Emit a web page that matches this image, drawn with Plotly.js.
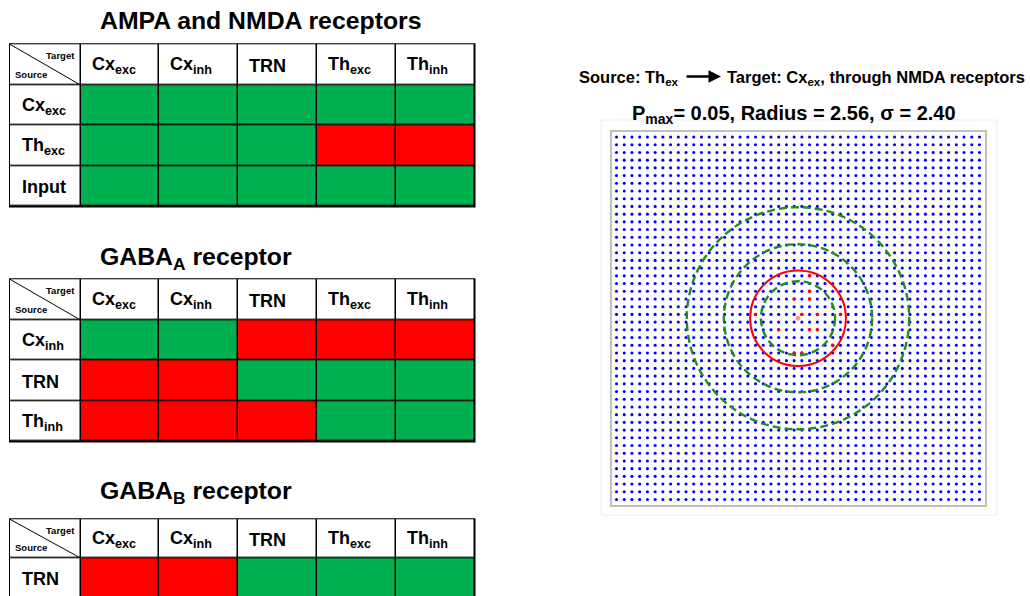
<!DOCTYPE html>
<html><head><meta charset="utf-8">
<script src="https://cdn.plot.ly/plotly-3.0.1.min.js"></script>
<style>html,body{margin:0;padding:0;background:#fff}#chart{width:1030px;height:596px}</style>
</head><body><div id="chart"></div>
<script>
// ---------------- data ----------------
const targets = ['Cx<sub>exc</sub>','Cx<sub>inh</sub>','TRN','Th<sub>exc</sub>','Th<sub>inh</sub>'];
const tableTitles = ['AMPA and NMDA receptors','GABA<sub>A</sub> receptor','GABA<sub>B</sub> receptor'];
const ampaSources = ['Cx<sub>exc</sub>','Th<sub>exc</sub>','Input'];
const ampaConn = [[1,1,1,1,1],[1,1,1,0,0],[1,1,1,1,1]];
const gabaASources = ['Cx<sub>inh</sub>','TRN','Th<sub>inh</sub>'];
const gabaAConn = [[1,1,0,0,0],[0,0,1,1,1],[0,0,0,1,1]];
const gabaBSources = ['TRN'];
const gabaBConn = [[0,0,1,1,1]];

const sourceName = 'Th<sub>ex</sub>';
const targetName = 'Cx<sub>ex</sub>';
const receptorName = 'NMDA receptors';
const pmax = 0.05, radius = 2.56, sigma = 2.40;
const gridCoords = [-23.5,-22.5,-21.5,-20.5,-19.5,-18.5,-17.5,-16.5,-15.5,-14.5,-13.5,-12.5,
  -11.5,-10.5,-9.5,-8.5,-7.5,-6.5,-5.5,-4.5,-3.5,-2.5,-1.5,-0.5,
  0.5,1.5,2.5,3.5,4.5,5.5,6.5,7.5,8.5,9.5,10.5,11.5,
  12.5,13.5,14.5,15.5,16.5,17.5,18.5,19.5,20.5,21.5,22.5,23.5];
const connX = [1.5, 1.5, -0.5, 1.5, -5.5, 0.5, 2.5, 5.5, -2.5, 1.5, 2.5, 4.5, -0.5, 0.5];
const connY = [5.5, 3.5, 2.5, 2.5, 0.5, 0.5, 0.5, 0.5, -1.5, -1.5, -1.5, -3.5, -4.5, -4.5];
const sourceX = [0], sourceY = [0];
const sigmaRings = [4.8, 9.6, 14.4];   // dashed green rings
const radiusRing = 6.2;                // solid red ring

// ---------------- layout helpers ----------------
const W = 1030, H = 596;
const FONT = 'Liberation Sans, Arial, sans-serif';
const fx = p => p / W, fy = p => 1 - p / H;
const GREEN = '#00b050', RED = '#ff0000';

const tables = [
  {sources: ampaSources, conn: ampaConn, top: 44.3, headH: 40.7, rowH: 40.5, titleY: 20.5},
  {sources: gabaASources, conn: gabaAConn, top: 279.3, headH: 40.7, rowH: 40.5, titleY: 258},
  {sources: gabaBSources, conn: gabaBConn, top: 519.3, headH: 38.7, rowH: 40.5, titleY: 492}
];
const TLEFT = 10, FIRST_W = 70.5, COL_W = 78.8;
const colEdges = [0, FIRST_W];
targets.forEach((t, i) => colEdges.push(FIRST_W + COL_W * (i + 1)));
const TW = colEdges[colEdges.length - 1];

const data = [], shapes = [], annotations = [];
const layout = {
  width: W, height: H, margin: {l: 0, r: 0, t: 0, b: 0},
  paper_bgcolor: '#ffffff', plot_bgcolor: 'rgba(0,0,0,0)', showlegend: false,
  font: {family: FONT, color: '#000'}
};

tables.forEach((tb, k) => {
  const xn = k === 0 ? 'x' : 'x' + (k + 1);
  const yn = k === 0 ? 'y' : 'y' + (k + 1);
  const xk = k === 0 ? 'xaxis' : 'xaxis' + (k + 1);
  const yk = k === 0 ? 'yaxis' : 'yaxis' + (k + 1);
  const rowEdges = [0, tb.headH];
  tb.sources.forEach((s, i) => rowEdges.push(tb.headH + tb.rowH * (i + 1)));
  const TH = rowEdges[rowEdges.length - 1];
  // z: 2 = white label cell, 1 = green (allowed), 0 = red (absent)
  const z = [[2].concat(targets.map(() => 2))];
  tb.conn.forEach(row => z.push([2].concat(row.map(v => v ? 1 : 0))));
  data.push({
    type: 'heatmap', x: colEdges, y: rowEdges, z: z, xaxis: xn, yaxis: yn,
    zmin: 0, zmax: 2, colorscale: [[0, RED], [0.5, GREEN], [1, '#ffffff']],
    showscale: false, xgap: 1.5, ygap: 1.5, hoverinfo: 'skip'
  });
  const visBottom = Math.min(tb.top + TH + 1, H);
  layout[xk] = {domain: [fx(TLEFT - 1), fx(TLEFT + TW + 1)], range: [-1, TW + 1],
    visible: false, fixedrange: true, anchor: yn};
  layout[yk] = {domain: [fy(visBottom), fy(tb.top - 1)], range: [visBottom - tb.top, -1],
    visible: false, fixedrange: true, anchor: xn};
  // black background behind gaps = table rules
  shapes.push({type: 'rect', xref: xn + ' domain', yref: yn + ' domain', x0: 0, x1: 1, y0: 0, y1: 1,
    fillcolor: '#000', line: {width: 0}, layer: 'below'});
  // corner diagonal
  shapes.push({type: 'line', xref: xn, yref: yn, x0: 0, y0: 0, x1: FIRST_W, y1: tb.headH,
    line: {color: '#000', width: 1}});
  annotations.push({xref: xn, yref: yn, x: FIRST_W - 4, y: 4, xanchor: 'right', yanchor: 'top',
    text: '<b>Target</b>', showarrow: false, font: {size: 9.5, family: FONT}});
  annotations.push({xref: xn, yref: yn, x: 3, y: tb.headH - 3, xanchor: 'left', yanchor: 'bottom',
    text: '<b>Source</b>', showarrow: false, font: {size: 9.5, family: FONT}});
  // header labels
  targets.forEach((t, i) => {
    annotations.push({xref: xn, yref: yn, x: colEdges[i + 1] + 9, y: tb.headH / 2 + 1,
      xanchor: 'left', yanchor: 'middle', text: '<b>' + t + '</b>', showarrow: false,
      font: {size: 18, family: FONT}});
  });
  tb.sources.forEach((s, i) => {
    annotations.push({xref: xn, yref: yn, x: 10, y: tb.headH + tb.rowH * (i + 0.5) + 1,
      xanchor: 'left', yanchor: 'middle', text: '<b>' + s + '</b>', showarrow: false,
      font: {size: 18, family: FONT}});
  });
  annotations.push({xref: 'paper', yref: 'paper', x: fx(98), y: fy(tb.titleY), xanchor: 'left',
    yanchor: 'middle', text: '<b>' + tableTitles[k] + '</b>', showarrow: false,
    font: {size: 24.8, family: FONT}});
});

// ---------------- right: connectivity grid ----------------
const gx = [], gy = [];
gridCoords.forEach(yv => gridCoords.forEach(xv => { gx.push(xv); gy.push(yv); }));
data.push({type: 'scatter', mode: 'markers', x: gx, y: gy, xaxis: 'x4', yaxis: 'y4',
  marker: {color: '#0000ff', size: 3.1}, hoverinfo: 'skip'});
data.push({type: 'scatter', mode: 'markers', x: connX, y: connY, xaxis: 'x4', yaxis: 'y4',
  marker: {color: '#ff0000', size: 3.5}, hoverinfo: 'skip'});
data.push({type: 'scatter', mode: 'markers', x: sourceX, y: sourceY, xaxis: 'x4', yaxis: 'y4',
  marker: {color: '#ff9a9a', size: 5}, hoverinfo: 'skip'});
const R = 24.15;
layout.xaxis4 = {domain: [fx(611.5), fx(984.5)], range: [-R, R], anchor: 'y4', showgrid: false, zeroline: false,
  showticklabels: false, ticks: '', showline: true, mirror: true, linecolor: '#c0c0c0', linewidth: 2,
  fixedrange: true};
layout.yaxis4 = {domain: [fy(504.5), fy(132)], range: [-R, R], anchor: 'x4', showgrid: false, zeroline: false,
  showticklabels: false, ticks: '', showline: true, mirror: true, linecolor: '#c0c0c0', linewidth: 2,
  fixedrange: true};
sigmaRings.forEach(r => shapes.push({type: 'circle', xref: 'x4', yref: 'y4', x0: -r, x1: r, y0: -r, y1: r,
  line: {color: '#228b22', width: 2.4, dash: '8px,4px'}}));
shapes.push({type: 'circle', xref: 'x4', yref: 'y4', x0: -radiusRing, x1: radiusRing,
  y0: -radiusRing, y1: radiusRing, line: {color: '#ff0000', width: 2}});
// faint frame around the panel
shapes.push({type: 'rect', xref: 'paper', yref: 'paper', x0: fx(601), x1: fx(997), y0: fy(515), y1: fy(120),
  line: {color: '#ededed', width: 1}, layer: 'below'});

annotations.push({xref: 'paper', yref: 'paper', x: fx(681), y: fy(78), xanchor: 'right', yanchor: 'middle',
  text: '<b>Source: ' + sourceName + '</b>', showarrow: false, font: {size: 16.5, family: FONT}});
annotations.push({xref: 'paper', yref: 'paper', x: fx(721), y: fy(76.5), ax: -36, ay: 0, text: '',
  showarrow: true, arrowhead: 2, arrowsize: 1, arrowwidth: 2.5, arrowcolor: '#000', standoff: 0});
annotations.push({xref: 'paper', yref: 'paper', x: fx(725), y: fy(78), xanchor: 'left', yanchor: 'middle',
  text: '<b>Target: ' + targetName + ', through ' + receptorName + '</b>', showarrow: false,
  font: {size: 16.5, family: FONT}});
annotations.push({xref: 'paper', yref: 'paper', x: fx(793.5), y: fy(114), xanchor: 'center', yanchor: 'middle',
  text: '<b>P<sub>max</sub>= ' + pmax.toFixed(2) + ', Radius = ' + radius.toFixed(2) + ', σ = ' + sigma.toFixed(2) + '</b>',
  showarrow: false, font: {size: 20, family: FONT}});

layout.shapes = shapes;
layout.annotations = annotations;
Plotly.newPlot('chart', data, layout, {staticPlot: true, displayModeBar: false});
</script></body></html>
